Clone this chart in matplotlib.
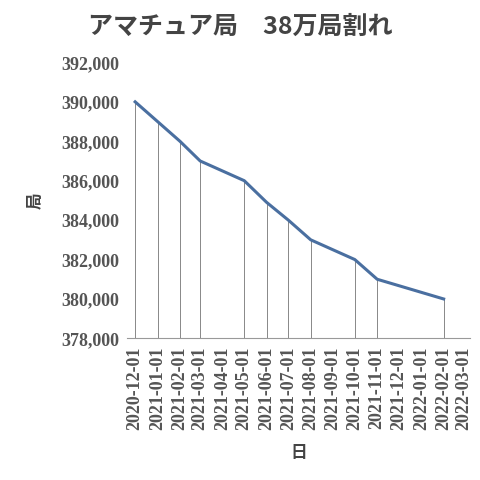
import matplotlib
matplotlib.use("Agg")
import matplotlib.pyplot as plt
import pandas as pd

dates = ["2020-12-01","2021-01-01","2021-02-01","2021-03-01","2021-05-01","2021-06-01",
         "2021-07-01","2021-08-01","2021-10-01","2021-11-01","2022-02-01"]
values = [390000,389000,388000,387000,386000,384900,384000,383000,382000,381000,380000]
title = "アマチュア局　38万局割れ"

x = pd.to_datetime(dates)
fig = plt.figure(figsize=(4.8,4.8), dpi=100)
ax = fig.add_axes([0.265, 0.295, 0.715, 0.575])
ymin = 378000
ax.vlines(x, ymin, values, color="#888888", lw=0.7)
ax.plot(x, values, color="#4a6fa0", lw=2.2)
ax.set_ylim(378000, 392000)
yt = list(range(378000, 392001, 2000))
ax.set_yticks(yt)
ax.set_yticklabels([f"{v:,}" for v in yt],
                   family=["Liberation Serif"], fontweight="bold", fontsize=13, color="#555555")
ticks = pd.date_range("2020-12-01", "2022-03-01", freq="MS")
ax.set_xticks(ticks)
ax.set_xticklabels([t.strftime("%Y-%m-%d") for t in ticks], rotation=90,
                   family=["Liberation Serif"], fontweight="bold", fontsize=13, color="#555555")
ax.set_xlim(pd.Timestamp("2020-11-20"), pd.Timestamp("2022-03-10"))
for s in ["top","right","left"]:
    ax.spines[s].set_visible(False)
ax.spines["bottom"].set_color("#999999")
ax.tick_params(length=0, pad=6)
ax.set_ylabel("局", family=["Noto Sans CJK JP"], fontweight="bold", fontsize=12, color="#444444", labelpad=12)
ax.set_xlabel("日", family=["Noto Sans CJK JP"], fontweight="bold", fontsize=12, color="#444444", labelpad=10)
fig.text(0.5, 0.945, title, ha="center", va="center", family=["Noto Sans CJK JP"],
         fontweight="bold", fontsize=18, color="#444444")
fig.savefig("out.png", dpi=100)
